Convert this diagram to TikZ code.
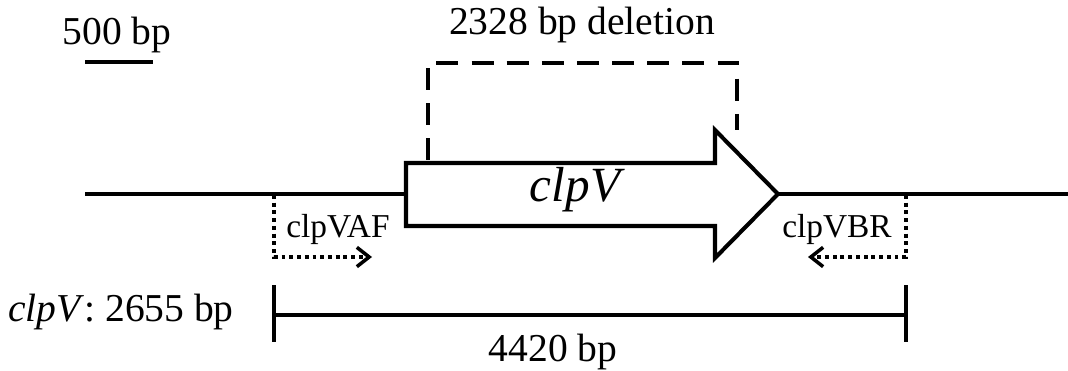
\documentclass[tikz,border=0pt]{standalone}
\usepackage{fontspec}
\setmainfont{Liberation Serif}
\usetikzlibrary{arrows.meta}

\tikzset{
  dna/.style={line width=2.3pt},
  primer/.style={line width=2pt, dash pattern=on 2.2pt off 2.2pt, -{Straight Barb[length=7pt,width=11pt]}},
  lbl/.style={font=\fontsize{22.5}{27}\selectfont, inner sep=0pt},
  plbl/.style={font=\fontsize{19}{23}\selectfont, inner sep=0pt},
}

\begin{document}
\begin{tikzpicture}[x=0.02cm, y=-0.02cm]
    \useasboundingbox (0,0) rectangle (1068,371);
    % scale bar
    \node[lbl] (scale) at (117,35) {500 bp};
    \draw[dna] (85,62) -- (153,62);
    % backbone
    \coordinate (left) at (85,194);
    \coordinate (right) at (1068,194);
    \draw[dna] (left) -- (406,194);
    \draw[dna] (778,194) -- (right);
    % clpV gene
    \draw[dna, fill=white, line join=miter] (406,163) -- (715,163) -- (715,130) -- (778,194)
        -- (715,258) -- (715,226) -- (406,226) -- cycle;
    \node[lbl, font=\fontsize{28}{32}\selectfont\itshape] (gene) at (575,190) {clpV};
    % deleted region
    \draw[dna, dash pattern=on 12.5pt off 7.5pt] (428,160) -- (428,63) -- (737,63) -- (737,130);
    \node[lbl] (del) at (582,25) {2328 bp deletion};
    % primers
    \coordinate (vaf0) at (274,195);
    \coordinate (vaf1) at (274,257);
    \coordinate (vaf2) at (372,257);
    \draw[primer] (vaf0) -- (vaf1) -- (vaf2);
    \node[plbl] (vaf) at (338,229) {clpVAF};
    \coordinate (vbr0) at (906,195);
    \coordinate (vbr1) at (906,257);
    \coordinate (vbr2) at (808,257);
    \draw[primer] (vbr0) -- (vbr1) -- (vbr2);
    \node[plbl] (vbr) at (837,229) {clpVBR};
    % amplicon
    \draw[dna] (274,285) -- (274,342);
    \draw[dna] (906,285) -- (906,342);
    \draw[dna] (274,315) -- (906,315);
    \node[lbl] (amp) at (553,352) {4420 bp};
    \node[lbl] (len) at (121,312) {\textit{clpV}: 2655 bp};
\end{tikzpicture}
\end{document}
